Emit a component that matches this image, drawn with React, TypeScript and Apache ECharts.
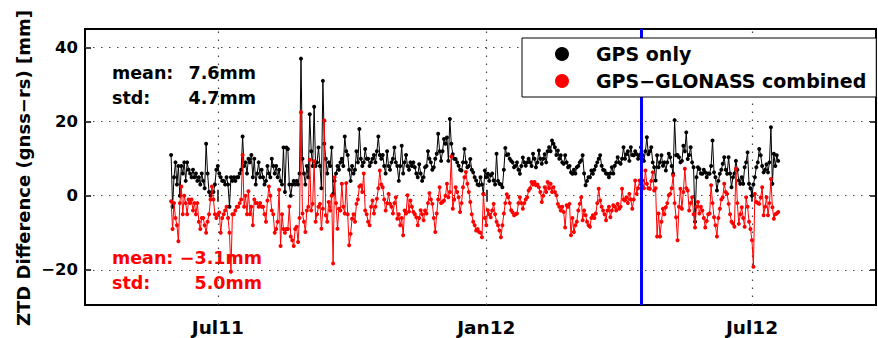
import { useEffect, useRef } from 'react';
import * as echarts from 'echarts';

// Daily ZTD differences (GNSS minus radiosonde), first value on START_DATE
const START_DATE = '2011-05-30';
const X_MIN = '2011-04-01';
const X_MAX = '2012-09-24';
const tickDates = ['2011-07-01', '2012-01-01', '2012-07-01'];
const tickLabels = ['Jul11', 'Jan12', 'Jul12'];
const yTicks = [-20, 0, 20, 40];
const Y_MIN = -29.5;
const Y_MAX = 45;
const switchDate = '2012-04-16';
const seriesNames = ['GPS only', 'GPS\u2212GLONASS combined'];
const statLabels = ['mean:', 'std:'];
const gpsStats = ['7.6mm', '4.7mm'];
const combinedStats = ['\u22123.1mm', '5.0mm'];

const gpsOnly = [
  11, -3, 5, 9, 3, 8, 0, 8, 6, 9,
  4, 9, 7, 6, 5, 7, 5, 6, 4, 5,
  3, 6, 4, 2, 14, 6, 1, 0, 1, 1,
  3, 7, 8, 6, 5, 4, 4, 3, 5, 3,
  -3, 5, 4, 5, 4, 5, 5, 6, 7, 16,
  8, 9, 6, 10, 9, 11, 5, 10, 3, 6,
  9, 5, 7, 5, 3, 4, 8, 6, 5, 10,
  8, 6, 8, 5, 7, 4, 3, 13, 1, 13,
  12.6, 3, 0, 3, 4, 3, 4, 3, 6, 37,
  10, 6, 3, 8, 5, 22, 12, 8, 24, 8,
  9, 13, 8, 2, 31, 14, 10, 6, 9, 8,
  13, 0.5, 4, 6, 8, 7, 9, 10, 8, 16,
  12, 11, 7, 4, 8, 6, 7, 12, 9, 18,
  10, 8, 9, 12.6, 10, 10, 8, 9, 10, 11,
  9, 12, 16, 11, 10, 11, 8, 6, 12, 8,
  7, 9, 10, 13, 9, 8, 4, 8, 13.5, 6,
  9, 11, 8, 7, 9, 8, 9, 7.7, 6, 5,
  8.5, 6, 4, 5, 7.7, 8, 12, 10, 9, 7,
  7.7, 10, 11.3, 16.7, 12, 9.4, 12, 15.3, 14, 15.7,
  9.4, 20.7, 14, 11.2, 10, 9.9, 9, 8.1, 7, 6.8,
  9, 12.6, 9, 7.7, 8, 9.9, 7, 6.3, 5, 4.1,
  3, 2.8, 5, 3, 0.5, 6.8, 5, 5.9, 4, 5.5,
  6, 4.1, 3, 11.3, 4, 3.2, 3, 2.3, 7, 12.9,
  11, 11.2, 10, 9.4, 9, 7.7, 8, 9, 7, 5.9,
  8, 10.3, 9, 8.1, 9, 10, 9, 8, 11.3, 10,
  7.7, 9, 12.2, 10, 8.6, 10, 11.2, 9, 12, 13.1,
  12, 14.9, 14, 13.1, 11, 12.2, 10, 10.9, 9, 8.6,
  10.9, 9, 7.7, 8, 6.3, 5.9, 7, 6, 7.7, 8,
  9, 9.5, 10.9, 6, 2.8, 4, 5, 5, 6.8, 5.9,
  7, 8, 9, 10, 10.9, 8.1, 7, 6.8, 6, 5.9,
  5, 6, 7.7, 6, 8.1, 9, 10.4, 9, 8.6, 10,
  13.1, 10, 11.2, 12, 9.4, 13.1, 11, 10.9, 12, 11.2,
  10, 10.9, 13.1, 11, 9.4, 12, 15.8, 11.2, 12, 13.1,
  9, 7.7, 4.1, 10.9, 7.7, 9, 10.9, 8.1, 9, 6.8,
  9, 11.3, 10.4, 8, 5.9, 20.4, 10.9, 11, 10.4, 9,
  9.4, 13.5, 12, 17.1, 9.9, 11, 13.1, 9, 7.7, -7,
  5, 7.7, 7.2, 6, 5.9, 7, 6.3, 5, 6, 5.9,
  8, 14.9, 6.3, 5, 1.4, 4, 5.9, 7, 8.6, 10.4,
  7, 5.9, 10.4, 6, 2.3, 5, 6, 9.4, 7, 4.1,
  3.2, 5, 3.2, 7.7, 9, 11.7, 3.2, 2, 0, 3,
  5, 7.7, 9, 12.6, 10.9, 8, 6.3, 7, 8.5, 6.3,
  9, 18.5, 3.2, 11.3, 8, 10.9, 9.4,
];

const gpsGlonass = [
  -1.5, -9, -2, -6, -8, -12.3, -2, 2.5, -5, 0,
  -2, -5, -1, -2, -1, -4, -2, -5, -2, -7,
  -9, -6, -6, -8, -10, -7, -5, -1, 2.5, -1,
  -5, -6, -5, -4.5, -10, -6, -5, -4, -3, -6,
  -10, -20.5, -5, -5, -4, -3, -3, -2, -1, 11,
  -3, 0, -5, 1.2, -5, -3, -8, -1, -2, -2,
  -3, -2, -3, -3, -5, -7, -1.3, 2.5, 0, -4,
  -5, -10, -9, -7, 1.6, -13.6, -5, -9, -10, -9,
  -9, -2.9, -11, -12, -13.6, -9, -8.4, -12.5, -6, 22.5,
  -4.8, -7, -9.8, -4, -3, 9.7, -4, -2.2, 9.3, -7,
  -5, -3, -2.2, -8.9, -3.5, 20.3, -5.3, -7, -1.7, -4,
  0, -18.3, 5, -2, -8.9, -3.5, -4, 3.2, -3, -4.8,
  3.4, -5, -13.4, -10.3, -6.2, -5, -7, -2.2, -1, 2.5,
  2.8, 1, 6, -4, -5, -7, -8, -3, -1.3, -4.8,
  -3, -0.8, 2, 6.8, 3, 2.3, -1, -4, -2, 0.5,
  -2.2, -3, -4.8, -2, -0.4, -6.2, -5, -8, -6, -10.7,
  -4, -4.8, 0.1, -4.3, -1.3, -3, -4.4, -5, -5.8, -8,
  -6, -3.9, -5, -6.6, -4, -4.8, -2, 0.7, -1, -2.2,
  -6, -9.8, -4.8, -1, 2.3, -2, -1.7, -1.3, 0, 3.2,
  -0.4, 1, 10.6, -3.5, -1, 2.3, 1, -0.4, -4.4, -2,
  2.3, 5, 6.4, 3.2, 1, -1.7, -5, -7, -8, -9.4,
  -9, -9.8, -10, -11.2, 0.4, -6, -8, -3.9, -5, -5.8,
  -4, -2.2, -5, -7, -8, -9.4, -11.2, -8, -4.8, -2,
  0.4, -0.4, -2, -3.9, -4.5, -5.3, -5, -4.8, -2, -0.4,
  -2, -3.5, -2, -1, -0.4, 1.4, 2, 3.7, 3, 3.7,
  2.8, 3, 2.3, 1, -1.7, 0, 2.3, 1, 3.7, 2,
  3.2, 1, 2.3, 1, 0.1, -2.2, -3, -4, -3, -4.4,
  -8.6, -2.6, -3, -2.2, -10.7, -6, -9.8, -8, -7, -4,
  -2.2, -0.4, -6.6, -4, -5.3, -7, -8, -8.4, -6, -5.3,
  -6, -4.8, -2, 1.9, -1.3, -3, -4, -5, -6.6, -4,
  -3, -5.8, -4, -2.6, -3, -4, -2.2, -3.5, -3, 1.9,
  -1, -1.3, -0.4, -2, 0.5, -1, -3.5, -1, 4.1, 0.5,
  2, 4.1, 3, 4.1, 2, 6.8, 3.2, 2, 1.9, 4,
  6.3, 1.4, 2, -11, -4.8, -11, -7, -3.5, -5, -3.1,
  -2, 0.1, 0.5, 2, 5.5, -2, -5.8, -12, -3, 1.9,
  -3.5, 1, 7.3, 2, 1.4, -4, -2, -0.4, -5, -8.6,
  -3, -1.7, -4.8, -3, -4, -6, -8.6, -6.8, -5, -4.8,
  2.8, -2, -5.8, -8, -11, -6, -3.5, -1, -0.4, 3.2,
  1, 0.5, -2.2, -5, -7, -7.5, -8.4, 7.3, -2, -7.6,
  -5, -3.1, -6, -8.4, -0.4, -3, -7, -9, -12, -19.2,
  0.5, -1.7, -2, -2.2, -0.5, 2.3, -5.3, -3, -0.4, -5.3,
  -2, 4.5, -3.1, -6.2, -5, -4.8, -4.4,
];

const FONT = '"DejaVu Sans", "Liberation Sans", sans-serif';
const DAY_MS = 86400000;
const toMs = (d: string) => Date.parse(d + 'T00:00:00Z');

const toPoints = (values: number[]) => {
  const t0 = toMs(START_DATE);
  return values.map((v, i) => [t0 + i * DAY_MS, v]);
};

export default function App() {
  const ref = useRef<HTMLDivElement>(null);

  useEffect(() => {
    if (!ref.current) return;
    const chart = echarts.init(ref.current, undefined, { renderer: 'svg' });
    const tickMs = tickDates.map(toMs);
    const xMin = toMs(X_MIN);
    const xMax = toMs(X_MAX);

    const tickStyle = { color: '#000', width: 1.5 };

    const xAxisBase = {
      type: 'value',
      min: xMin,
      max: xMax,
      axisLine: { show: false },
      splitLine: { show: false },
      axisTick: { inside: true, length: 6, customValues: tickMs, lineStyle: tickStyle },
    };
    const yAxisBase = {
      type: 'value',
      min: Y_MIN,
      max: Y_MAX,
      axisLine: { show: false },
      splitLine: { show: false },
      axisTick: { inside: true, length: 6, customValues: yTicks, lineStyle: tickStyle },
    };

    const gridLineData = [
      ...yTicks.map((v) => ({ yAxis: v })),
      ...tickMs.map((v) => ({ xAxis: v })),
    ];

    const statText = (
      x: number,
      y: number,
      text: string,
      color: string,
      align: 'left' | 'right',
    ) => ({
      type: 'text',
      x,
      y,
      silent: true,
      style: {
        text,
        fill: color,
        fontSize: 17.5,
        fontWeight: 'bold',
        fontFamily: FONT,
        align,
        verticalAlign: 'middle',
        textAlign: align,
        textVerticalAlign: 'middle',
      },
    });

    chart.setOption({
      animation: false,
      backgroundColor: '#fff',
      textStyle: { fontFamily: FONT, fontWeight: 'bold' },
      grid: {
        left: 85,
        top: 29,
        right: 2,
        bottom: 33,
        show: true,
        borderColor: '#000',
        borderWidth: 2,
        backgroundColor: 'transparent',
      },
      legend: {
        data: seriesNames,
        left: 522,
        top: 38,
        z: 20,
        orient: 'vertical',
        icon: 'circle',
        itemWidth: 14,
        itemHeight: 14,
        itemGap: 5,
        padding: [5, 10, 5, 33],
        backgroundColor: '#fff',
        borderColor: '#000',
        borderWidth: 1,
        selectedMode: false,
        textStyle: {
          fontSize: 19,
          fontWeight: 'bold',
          color: '#000',
          fontFamily: FONT,
          padding: [0, 0, 0, 22],
          lineHeight: 22,
        },
      },
      xAxis: [
        {
          ...xAxisBase,
          position: 'bottom',
          axisLabel: {
            customValues: tickMs,
            formatter: (v: number) => {
              const i = tickMs.indexOf(v);
              return i >= 0 ? tickLabels[i] : '';
            },
            color: '#000',
            fontSize: 18.5,
            fontWeight: 'bold',
            fontFamily: FONT,
            margin: 13,
          },
        },
        { ...xAxisBase, position: 'top', axisLabel: { show: false } },
      ],
      yAxis: [
        {
          ...yAxisBase,
          position: 'left',
          axisLabel: {
            customValues: yTicks,
            formatter: (v: number) => String(v).replace('-', '\u2212'),
            color: '#000',
            fontSize: 16.5,
            fontWeight: 'bold',
            fontFamily: FONT,
            margin: 7,
          },
        },
        { ...yAxisBase, position: 'right', axisLabel: { show: false } },
      ],
      series: [
        {
          name: seriesNames[0],
          type: 'line',
          data: toPoints(gpsOnly),
          symbol: 'circle',
          symbolSize: 4,
          lineStyle: { color: '#000', width: 1 },
          itemStyle: { color: '#000' },
          z: 2,
          markLine: {
            silent: true,
            z: 1,
            symbol: 'none',
            label: { show: false },
            emphasis: { disabled: true },
            lineStyle: { color: '#444', type: [1.5, 6.5], width: 1.2 },
            data: gridLineData,
          },
        },
        {
          name: seriesNames[1],
          type: 'line',
          data: toPoints(gpsGlonass),
          symbol: 'circle',
          symbolSize: 4,
          lineStyle: { color: '#ff0000', width: 1 },
          itemStyle: { color: '#ff0000' },
          z: 3,
          markLine: {
            silent: true,
            z: 4,
            symbol: 'none',
            label: { show: false },
            emphasis: { disabled: true },
            lineStyle: { color: '#0000ff', type: 'solid', width: 3 },
            data: [{ xAxis: toMs(switchDate) }],
          },
        },
      ],
      graphic: [
        {
          type: 'text',
          x: 23,
          y: 168,
          rotation: Math.PI / 2,
          silent: true,
          style: {
            text: 'ZTD Difference (gnss\u2212rs) [mm]',
            fill: '#000',
            fontSize: 18,
            fontWeight: 'bold',
            fontFamily: FONT,
            align: 'center',
            verticalAlign: 'middle',
            textAlign: 'center',
            textVerticalAlign: 'middle',
          },
        },
        statText(112, 73, statLabels[0], '#000', 'left'),
        statText(256, 73, gpsStats[0], '#000', 'right'),
        statText(112, 98, statLabels[1], '#000', 'left'),
        statText(256, 98, gpsStats[1], '#000', 'right'),
        statText(112, 258, statLabels[0], '#ff0000', 'left'),
        statText(262, 258, combinedStats[0], '#ff0000', 'right'),
        statText(112, 283, statLabels[1], '#ff0000', 'left'),
        statText(262, 283, combinedStats[1], '#ff0000', 'right'),
      ],
    });

    return () => chart.dispose();
  }, []);

  return (
    <div
      ref={ref}
      style={{ position: 'fixed', left: 0, top: 0, width: 878, height: 338, background: '#fff' }}
    />
  );
}
